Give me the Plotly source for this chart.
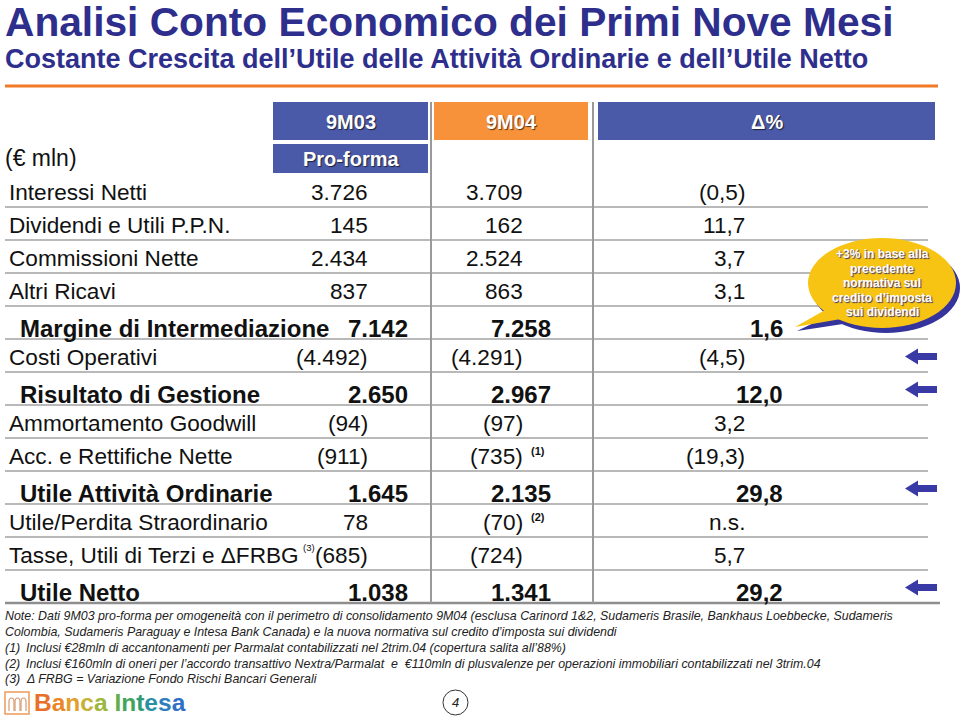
import plotly.graph_objects as go

# ---------------- data ----------------
title = "Analisi Conto Economico dei Primi Nove Mesi"
subtitle = "Costante Crescita dell’Utile delle Attività Ordinarie e dell’Utile Netto"
unit_label = "(€ mln)"
col_headers = ["9M03", "9M04", "Δ%"]
col_subheader = "Pro-forma"

row_labels = [
    "Interessi Netti",
    "Dividendi e Utili P.P.N.",
    "Commissioni Nette",
    "Altri Ricavi",
    "Margine di Intermediazione",
    "Costi Operativi",
    "Risultato di Gestione",
    "Ammortamento Goodwill",
    "Acc. e Rettifiche Nette",
    "Utile Attività Ordinarie",
    "Utile/Perdita Straordinario",
    "Tasse, Utili di Terzi e ΔFRBG",
    "Utile Netto",
]
row_label_notes = ["", "", "", "", "", "", "", "", "", "", "", "(3)", ""]
row_is_total = [False, False, False, False, True, False, True, False, False, True, False, False, True]
values_9m03 = ["3.726", "145", "2.434", "837", "7.142", "(4.492)", "2.650", "(94)", "(911)",
               "1.645", "78", "(685)", "1.038"]
values_9m04 = ["3.709", "162", "2.524", "863", "7.258", "(4.291)", "2.967", "(97)", "(735)",
               "2.135", "(70)", "(724)", "1.341"]
notes_9m04 = ["", "", "", "", "", "", "", "", "(1)", "", "(2)", "", ""]
delta_pct = ["(0,5)", "11,7", "3,7", "3,1", "1,6", "(4,5)", "12,0", "3,2", "(19,3)",
             "29,8", "n.s.", "5,7", "29,2"]
arrow_rows = [False, False, False, False, False, True, True, False, False, True, False, False, True]

callout_lines = ["+3% in base alla", "precedente", "normativa sul", "credito d’imposta", "sui dividendi"]

footnote_intro = [
    "Note: Dati 9M03 pro-forma per omogeneità con il perimetro di consolidamento 9M04 (esclusa Carinord 1&2, Sudameris Brasile, Bankhaus Loebbecke, Sudameris",
    "Colombia, Sudameris Paraguay e Intesa Bank Canada) e la nuova normativa sul credito d’imposta sui dividendi",
]
footnote_marks = ["(1)", "(2)", "(3)"]
footnote_texts = [
    "Inclusi €28mln di accantonamenti per Parmalat contabilizzati nel 2trim.04 (copertura salita all’88%)",
    "Inclusi €160mln di oneri per l’accordo transattivo Nextra/Parmalat  e  €110mln di plusvalenze per operazioni immobiliari contabilizzati nel 3trim.04",
    "Δ FRBG = Variazione Fondo Rischi Bancari Generali",
]
page_number = "4"
logo_letters = list("Banca Intesa")
logo_colors = ["#E8702A", "#EA8528", "#E29F2B", "#C4B236", "#9DB63E", "",
               "#63AD4A", "#43A55C", "#2E9C74", "#2A8FA2", "#2C7FBC", "#306FC4"]

# ---------------- layout constants ----------------
W, H = 960, 716
NAVY = "#2E2E8C"
BLUE_BOX = "#4B5AA8"
ORANGE_BOX = "#F7923A"
TXT = "#111111"
FONT = "Liberation Sans, Arial, sans-serif"
SHADOW = "1px 1px 1px rgba(0,0,0,0.65)"

TABLE_TOP = 174
ROW_H = 33.0
REG_DY, TOT_DY = 2, 6
LABEL_X = {False: 7, True: 18}
COL_RIGHT = {  # right edge of numbers (regular, total)
    "9m03": {False: 370, True: 410},
    "9m04": {False: 525, True: 553},
    "delta": {False: 747, True: 785},
}
SIZE = {False: 22.6, True: 24}

fig = go.Figure()
fig.add_trace(go.Scatter(x=[0, W], y=[0, H], mode="markers",
                         marker=dict(opacity=0), hoverinfo="skip", showlegend=False))

shapes = []
ann = []


def text(x, y, s, size, color=TXT, bold=False, italic=False, xanchor="left", family=FONT,
         shadow=None):
    f = dict(family=family, size=size, color=color,
             weight="bold" if bold else "normal",
             style="italic" if italic else "normal")
    if shadow:
        f["shadow"] = shadow
    ann.append(dict(x=x, y=y, xref="x", yref="y", text=s, showarrow=False,
                    xanchor=xanchor, yanchor="middle", font=f))


# title block
text(3, 22, title, 40.7, NAVY, bold=True)
text(3, 59, subtitle, 27, NAVY, bold=True)
shapes.append(dict(type="line", x0=5, x1=938, y0=86, y1=86, line=dict(color="#F07A26", width=3)))

# header boxes
hdr_boxes = [(273, 428, BLUE_BOX), (434, 588, ORANGE_BOX), (598, 935, BLUE_BOX)]
for (x0, x1, c), lab in zip(hdr_boxes, col_headers):
    shapes.append(dict(type="rect", x0=x0, x1=x1, y0=102, y1=140, fillcolor=c, line=dict(width=0)))
    text((x0 + x1) / 2, 122, lab, 20, "white", bold=True, xanchor="center", shadow=SHADOW)
shapes.append(dict(type="rect", x0=273, x1=428, y0=144, y1=173, fillcolor=BLUE_BOX, line=dict(width=0)))
text(350.5, 159, col_subheader, 20, "white", bold=True, xanchor="center", shadow=SHADOW)
text(3, 158, unit_label, 23)

# table grid
n = len(row_labels)
for i in range(n):
    yb = TABLE_TOP + ROW_H * (i + 1)
    last = i == n - 1
    shapes.append(dict(type="line", x0=5, x1=940 if last else 928, y0=yb, y1=yb,
                       line=dict(color="#8E8E8E" if last else "#B9B9B9", width=2.5 if last else 2)))
for xv in (431, 593):
    shapes.append(dict(type="line", x0=xv, x1=xv, y0=102, y1=TABLE_TOP + ROW_H * n,
                       line=dict(color="#9A9A9A", width=2)))

# table rows
for i in range(n):
    tot = row_is_total[i]
    yc = TABLE_TOP + ROW_H * (i + 0.5) + (TOT_DY if tot else REG_DY)
    text(LABEL_X[tot], yc, row_labels[i], SIZE[tot], bold=tot)
    if row_label_notes[i]:
        text(301, yc - 8, row_label_notes[i], 9.5)
    text(COL_RIGHT["9m03"][tot], yc, values_9m03[i], SIZE[tot], bold=tot, xanchor="right")
    text(COL_RIGHT["9m04"][tot], yc, values_9m04[i], SIZE[tot], bold=tot, xanchor="right")
    if notes_9m04[i]:
        text(COL_RIGHT["9m04"][tot] + 4, yc - 6, notes_9m04[i], 11, bold=True)
    text(COL_RIGHT["delta"][tot], yc, delta_pct[i], SIZE[tot], bold=tot, xanchor="right")
    if arrow_rows[i]:
        ya = TABLE_TOP + ROW_H * (i + 0.5) + 1
        xt = 905
        p = (f"M {xt},{ya} L {xt+13},{ya-8} L {xt+13},{ya-3.5} L {xt+32},{ya-3.5} "
             f"L {xt+32},{ya+3.5} L {xt+13},{ya+3.5} L {xt+13},{ya+8} Z")
        shapes.append(dict(type="path", path=p, fillcolor="#3A3AA6", line=dict(width=0)))

# callout bubble
shapes.append(dict(type="circle", x0=812, x1=960, y0=243, y1=333, fillcolor="#34349C", line=dict(width=0)))
shapes.append(dict(type="path", path="M 832,314 L 797,331 L 856,322 Z", fillcolor="#34349C", line=dict(width=0)))
shapes.append(dict(type="circle", x0=808, x1=956, y0=238, y1=328, fillcolor="#F8C413", line=dict(width=0)))
shapes.append(dict(type="path", path="M 834,305 L 795,327 L 858,316 Z", fillcolor="#F8C413", line=dict(width=0)))
for k, line in enumerate(callout_lines):
    text(882, 254 + 14.6 * k, line, 12, "white", bold=True, xanchor="center",
         shadow="1px 1px 1px rgba(40,40,120,0.9)")

# footnotes
for k, s in enumerate(footnote_intro):
    text(3, 616 + 15.5 * k, s, 12.4, "#222222", italic=True)
for k, (m, s) in enumerate(zip(footnote_marks, footnote_texts)):
    yf = 648 + 15.5 * k
    text(3, yf, m, 12.4, "#222222", italic=True)
    text(24, yf, s, 12.4, "#222222", italic=True)

# logo
shapes.append(dict(type="rect", x0=5, x1=29, y0=692, y1=714, fillcolor="white",
                   line=dict(color="#EE9A5A", width=1.5)))
for ax in (9, 15, 21):
    shapes.append(dict(type="path", path=f"M {ax},711 L {ax},702 Q {ax},698 {ax+2.5},698 Q {ax+5},698 {ax+5},702 L {ax+5},711",
                       line=dict(color="#D89A70", width=1.2)))
logo_html = "".join((f"<span style='color:{c}'>{ch}</span>" if c else ch)
                    for ch, c in zip(logo_letters, logo_colors))
text(32, 702, logo_html, 24.5, bold=True)

# page number
shapes.append(dict(type="circle", x0=443, x1=468, y0=690, y1=715, line=dict(color="#333333", width=1)))
text(455.5, 702.5, page_number, 13, "#222222", italic=True, xanchor="center")

fig.update_layout(
    width=W, height=H, margin=dict(l=0, r=0, t=0, b=0),
    paper_bgcolor="white", plot_bgcolor="white", showlegend=False,
    xaxis=dict(range=[0, W], visible=False, fixedrange=True),
    yaxis=dict(range=[H, 0], visible=False, fixedrange=True),
    shapes=shapes, annotations=ann,
)
fig.write_html("out.html", config={"displayModeBar": False},
               post_script="document.body.style.margin='0';document.body.style.padding='0';"
                           "document.body.style.overflow='hidden';")
